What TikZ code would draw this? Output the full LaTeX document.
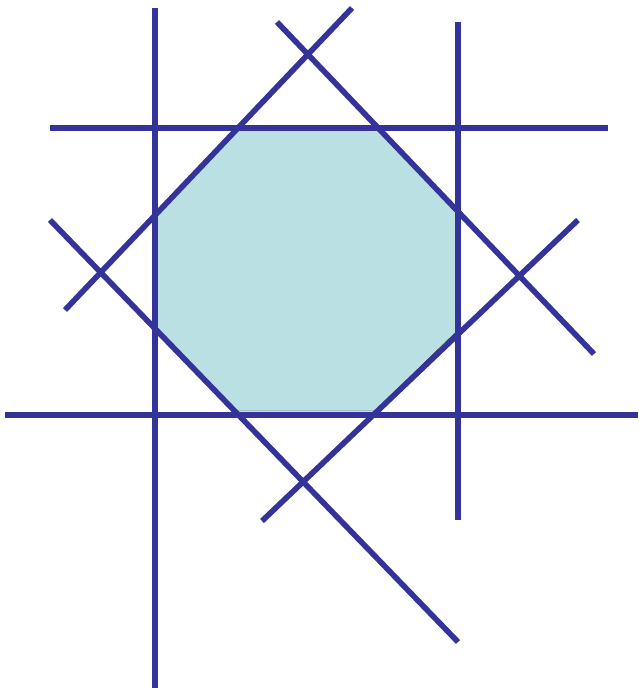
\documentclass[tikz,border=0pt]{standalone}
\usepackage{tikz}
\definecolor{cutblue}{RGB}{51,51,153}
\definecolor{regionfill}{RGB}{187,224,227}
\tikzset{cutline/.style={cutblue, line width=1.4mm, line cap=butt}}

\begin{document}
\begin{tikzpicture}[x=0.25mm, y=-0.25mm]
  \useasboundingbox (0,0) rectangle (639,688);
  % feasible octagon
  \fill[regionfill, draw=black, line width=0.3pt] (237,128) -- (375,128) -- (458,212) -- (458,330)
        -- (375,411) -- (237,411) -- (155,328) -- (155,214) -- cycle;
  % end points of the cutting lines
  \coordinate (vlA) at (155,8);   \coordinate (vlB) at (155,688);
  \coordinate (vrA) at (458,22);  \coordinate (vrB) at (458,520);
  \coordinate (htA) at (50,128);  \coordinate (htB) at (608,128);
  \coordinate (hbA) at (5,415);   \coordinate (hbB) at (638,415);
  \coordinate (d1A) at (65,310);  \coordinate (d1B) at (352,8);
  \coordinate (d2A) at (277,22);  \coordinate (d2B) at (594,354);
  \coordinate (d3A) at (50,220);  \coordinate (d3B) at (458,642);
  \coordinate (d4A) at (262,521); \coordinate (d4B) at (578,220);
  \draw[cutline] (vlA) -- (vlB);
  \draw[cutline] (vrA) -- (vrB);
  \draw[cutline] (htA) -- (htB);
  \draw[cutline] (hbA) -- (hbB);
  \draw[cutline] (d1A) -- (d1B);
  \draw[cutline] (d2A) -- (d2B);
  \draw[cutline] (d3A) -- (d3B);
  \draw[cutline] (d4A) -- (d4B);
\end{tikzpicture}
\end{document}
